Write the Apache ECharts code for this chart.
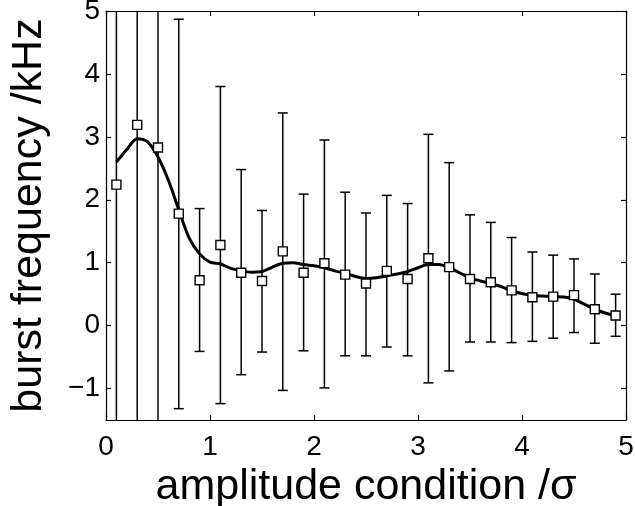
<!DOCTYPE html>
<html>
<head>
<meta charset="utf-8">
<script src="https://cdn.jsdelivr.net/npm/echarts@6/dist/echarts.min.js"></script>
<style>
html,body{margin:0;padding:0;background:#fff;}
#chart{width:635px;height:506px;}
</style>
</head>
<body>
<div id="chart"></div>
<script>
// Data points (amplitude condition / sigma)
const xPoints = [0.1,0.3,0.5,0.7,0.9,1.1,1.3,1.5,1.7,1.9,2.1,2.3,2.5,2.7,2.9,3.1,3.3,3.5,3.7,3.9,4.1,4.3,4.5,4.7,4.9];
const meanFreq = [2.24,3.19,2.83,1.78,0.72,1.28,0.84,0.71,1.18,0.84,0.99,0.81,0.67,0.87,0.74,1.07,0.93,0.74,0.69,0.56,0.45,0.46,0.485,0.26,0.16];
const upperBar = [8.0,8.0,8.0,4.87,1.86,3.80,2.48,1.83,3.38,2.09,2.95,2.12,1.79,2.07,1.94,3.04,2.59,1.76,1.64,1.40,1.17,1.12,1.06,0.82,0.50];
const lowerBar = [-3.5,-3.5,-3.5,-1.32,-0.41,-1.24,-0.78,-0.42,-1.03,-0.40,-0.99,-0.48,-0.48,-0.34,-0.48,-0.91,-0.72,-0.26,-0.26,-0.27,-0.25,-0.20,-0.11,-0.28,-0.17];
// Smoothed curve
const curveX = [0.1,0.2,0.3,0.4,0.5,0.6,0.7,0.8,0.9,1.0,1.1,1.2,1.3,1.4,1.5,1.6,1.7,1.8,1.9,2.0,2.1,2.2,2.3,2.4,2.5,2.6,2.7,2.8,2.9,3.0,3.1,3.2,3.3,3.4,3.5,3.6,3.7,3.8,3.9,4.0,4.1,4.2,4.3,4.4,4.5,4.6,4.7,4.8,4.9];
const curveY = [2.60,2.80,2.97,2.92,2.68,2.31,1.84,1.39,1.14,1.01,0.98,0.91,0.87,0.85,0.86,0.93,0.99,1.00,0.97,0.95,0.92,0.87,0.83,0.78,0.75,0.76,0.79,0.82,0.86,0.92,0.97,0.97,0.92,0.84,0.76,0.71,0.67,0.62,0.55,0.51,0.48,0.47,0.46,0.455,0.42,0.34,0.26,0.20,0.155];
// Axis ticks
const xTicks = [0,1,2,3,4,5];
const yTicks = [-1,0,1,2,3,4,5];

const FONT = 'Liberation Sans, Arial, sans-serif';
const chart = echarts.init(document.getElementById('chart'), null, {renderer:'canvas'});

const axisLineStyle = {show:true, onZero:false, lineStyle:{color:'#000', width:1.2}};
const tickStyle = {show:true, inside:true, length:5, lineStyle:{color:'#000', width:1.2}};

const option = {
  backgroundColor:'#fff',
  animation:false,
  grid:{left:106, right:9, top:11, bottom:86, containLabel:false, outerBoundsMode:'none'},
  xAxis:[{
    type:'value', min:0, max:5, position:'bottom',
    axisLine:axisLineStyle,
    axisTick:Object.assign({customValues:xTicks}, tickStyle),
    axisLabel:{customValues:xTicks, color:'#000', fontSize:28, fontFamily:FONT, margin:13},
    splitLine:{show:false},
    name:'amplitude condition /σ', nameLocation:'middle', nameGap:45,
    nameTextStyle:{color:'#000', fontSize:43, fontFamily:FONT}
  },{
    type:'value', min:0, max:5, position:'top',
    axisLine:axisLineStyle,
    axisTick:Object.assign({customValues:xTicks}, tickStyle),
    axisLabel:{show:false},
    splitLine:{show:false}
  }],
  yAxis:[{
    type:'value', min:-1.5, max:5, position:'left',
    axisLine:axisLineStyle,
    axisTick:Object.assign({customValues:yTicks}, tickStyle),
    axisLabel:{customValues:yTicks, color:'#000', fontSize:28, fontFamily:FONT, margin:6,
      formatter:function(v){return String(v).replace('-', '\u2212');}},
    splitLine:{show:false},
    name:'burst frequency /kHz', nameLocation:'middle', nameGap:55, nameRotate:90,
    nameTextStyle:{color:'#000', fontSize:43, fontFamily:FONT}
  },{
    type:'value', min:-1.5, max:5, position:'right',
    axisLine:axisLineStyle,
    axisTick:Object.assign({customValues:yTicks}, tickStyle),
    axisLabel:{show:false},
    splitLine:{show:false}
  }],
  series:[{
    type:'custom',
    xAxisIndex:0, yAxisIndex:0,
    clip:true,
    data:xPoints.map((x,i)=>[x, lowerBar[i], upperBar[i]]),
    renderItem:function(params, api){
      const lo = api.coord([api.value(0), api.value(1)]);
      const hi = api.coord([api.value(0), api.value(2)]);
      const hw = 5;
      const st = {stroke:'#000', lineWidth:1.5};
      return {type:'group', children:[
        {type:'line', shape:{x1:lo[0], y1:lo[1], x2:hi[0], y2:hi[1]}, style:st},
        {type:'line', shape:{x1:lo[0]-hw, y1:lo[1], x2:lo[0]+hw, y2:lo[1]}, style:st},
        {type:'line', shape:{x1:hi[0]-hw, y1:hi[1], x2:hi[0]+hw, y2:hi[1]}, style:st}
      ]};
    },
    z:2
  },{
    type:'line',
    data:curveX.map((x,i)=>[x, curveY[i]]),
    smooth:0.3,
    showSymbol:false,
    lineStyle:{color:'#000', width:3},
    z:3
  },{
    type:'scatter',
    data:xPoints.map((x,i)=>[x, meanFreq[i]]),
    symbol:'rect',
    symbolSize:9,
    itemStyle:{color:'#fff', borderColor:'#000', borderWidth:1.4, opacity:1},
    z:4
  }]
};
chart.setOption(option);
</script>
</body>
</html>
